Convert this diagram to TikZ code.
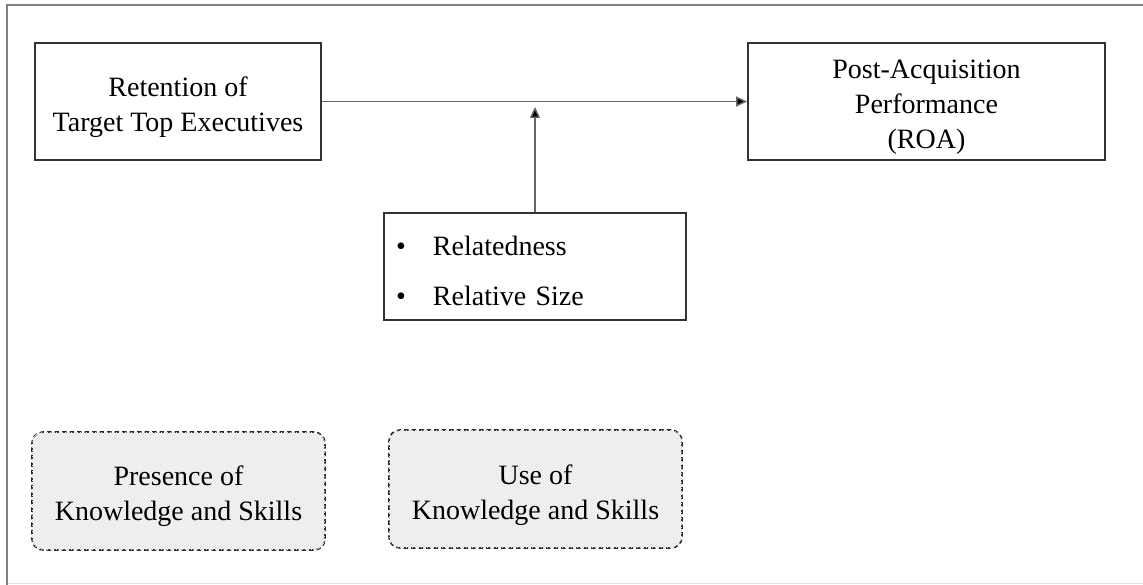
\documentclass[tikz,border=0pt]{standalone}
\usepackage{fontspec}
\setmainfont{Liberation Serif}
\usetikzlibrary{arrows.meta,patterns}
\begin{document}
\begin{tikzpicture}[x=1pt,y=-1pt,
  txt/.style={align=center, inner sep=0pt, font=\fontsize{28}{35}\selectfont},
  box/.style={draw=black!80, line width=1.8pt, inner sep=0pt},
  dbox/.style={draw=black!85, line width=1.6pt, dash pattern=on 4.5pt off 3pt,
    rounded corners=11pt, fill=gray!18, inner sep=0pt,
    minimum width=293pt, minimum height=118pt,
    postaction={pattern=north east lines, pattern color=white}},
  conn/.style={draw=black!60, line width=1.4pt, -{Triangle[length=11pt,width=10pt,fill=black]}}
]
\useasboundingbox (0,0) rectangle (1143,585);
\fill[white] (0,0) rectangle (1143,585);
% frame
\draw[black!50, line width=1.6pt] (1143,5) -- (7,5) -- (7,585);
\draw[black!12, line width=1pt] (8,583) -- (1143,583);

\node[box, minimum width=286pt, minimum height=117pt,
  label={[txt, yshift=-6pt]center:Retention of\\Target Top Executives}] (b1) at (178,101.5) {};
\node[box, minimum width=357pt, minimum height=117pt,
  label={[txt, yshift=-6pt]center:Post-Acquisition\\Performance\\(ROA)}] (b2) at (926.5,101.5) {};
\node[box, minimum width=302pt, minimum height=107pt,
  label={[txt, align=left, text width=278pt, yshift=-4pt]center:\makebox[37pt][l]{\textbullet}Relatedness\\[15pt]\makebox[37pt][l]{\textbullet}Relative Size}] (b3) at (535,266.5) {};
\coordinate (m) at (535,102);

\draw[conn] (b1.east) -- (b2.west);
\draw[conn, shorten >=5pt] (b3.north) -- (m);

\node[dbox, label={[txt, yshift=-5pt]center:Presence of\\Knowledge and Skills}] (d1) at (178.5,491) {};
\node[dbox, label={[txt, yshift=-6pt]center:Use of\\Knowledge and Skills}] (d2) at (535.5,489) {};
\end{tikzpicture}
\end{document}
